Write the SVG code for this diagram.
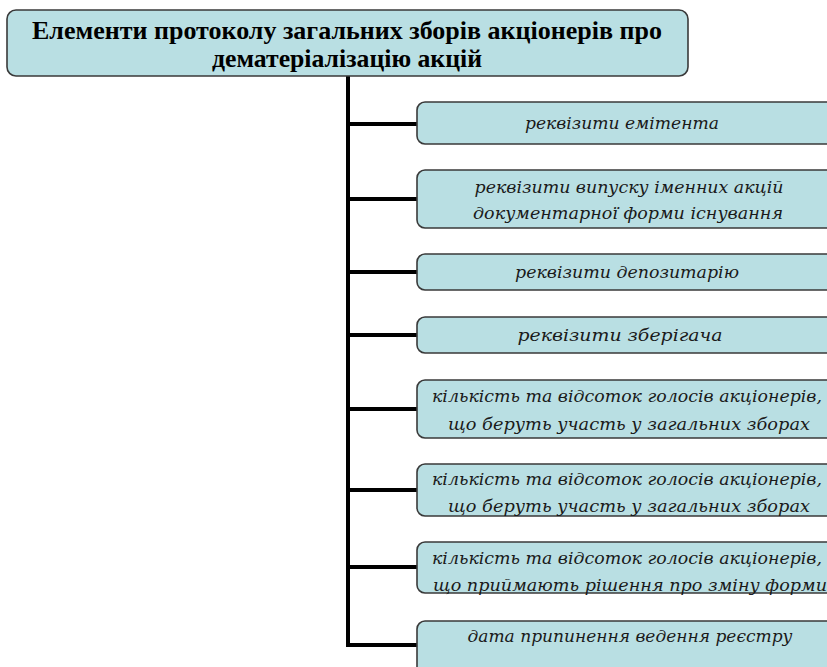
<svg xmlns="http://www.w3.org/2000/svg" width="827" height="667" viewBox="0 0 827 667">
<style>
.box{fill:#b9dfe3;stroke:#3a3a3a;stroke-width:1.6}
.t{font-family:"DejaVu Serif","Liberation Serif",serif;font-style:italic;font-size:17px;fill:#1a1a1a;text-anchor:middle}
.h{font-family:"Liberation Serif","Times New Roman",serif;font-weight:bold;font-size:25px;fill:#000;text-anchor:middle}
.c{fill:none;stroke:#000;stroke-width:4}
</style>
<rect width="827" height="667" fill="#fff"/>
<g id="connectors">
<path class="c" d="M348 76 V645 M348 124 H417 M348 199 H417 M348 272 H417 M348 335 H417 M348 409 H417 M348 490 H417 M348 567 H417 M346 645 H417"/>
</g>
<g id="title">
<rect class="box" x="7" y="10" width="681" height="66" rx="9"/>
<text class="h" x="347" y="39" textLength="630" lengthAdjust="spacingAndGlyphs">Елементи протоколу загальних зборів акціонерів про</text>
<text class="h" x="347" y="67" textLength="270" lengthAdjust="spacingAndGlyphs">дематеріалізацію акцій</text>
</g>
<g id="n1">
<rect class="box" x="417" y="102" width="440" height="42" rx="8"/>
<text class="t" x="622" y="129" textLength="194" lengthAdjust="spacingAndGlyphs">реквізити емітента</text>
</g>
<g id="n2">
<rect class="box" x="417" y="170" width="440" height="58" rx="8"/>
<text class="t" x="629" y="193" textLength="309" lengthAdjust="spacingAndGlyphs">реквізити випуску іменних акцій</text>
<text class="t" x="628" y="219" textLength="310" lengthAdjust="spacingAndGlyphs">документарної форми існування</text>
</g>
<g id="n3">
<rect class="box" x="417" y="254" width="440" height="36" rx="8"/>
<text class="t" x="627" y="278" textLength="224" lengthAdjust="spacingAndGlyphs">реквізити депозитарію</text>
</g>
<g id="n4">
<rect class="box" x="417" y="317" width="440" height="36" rx="8"/>
<text class="t" x="620" y="341" textLength="205" lengthAdjust="spacingAndGlyphs">реквізити зберігача</text>
</g>
<g id="n5">
<rect class="box" x="417" y="380" width="440" height="58" rx="8"/>
<text class="t" x="627" y="402" textLength="390" lengthAdjust="spacingAndGlyphs">кількість та відсоток голосів акціонерів,</text>
<text class="t" x="629" y="430" textLength="362" lengthAdjust="spacingAndGlyphs">що беруть участь у загальних зборах</text>
</g>
<g id="n6">
<rect class="box" x="417" y="464" width="440" height="52" rx="8"/>
<text class="t" x="627" y="485" textLength="390" lengthAdjust="spacingAndGlyphs">кількість та відсоток голосів акціонерів,</text>
<text class="t" x="629" y="512" textLength="362" lengthAdjust="spacingAndGlyphs">що беруть участь у загальних зборах</text>
</g>
<g id="n7">
<rect class="box" x="417" y="542" width="440" height="51" rx="8"/>
<text class="t" x="627" y="564" textLength="390" lengthAdjust="spacingAndGlyphs">кількість та відсоток голосів акціонерів,</text>
<text class="t" x="630" y="591" textLength="394" lengthAdjust="spacingAndGlyphs">що приймають рішення про зміну форми</text>
</g>
<g id="n8">
<rect class="box" x="417" y="621" width="440" height="60" rx="8"/>
<text class="t" x="630" y="642" textLength="325" lengthAdjust="spacingAndGlyphs">дата припинення ведення реєстру</text>
</g>
</svg>
